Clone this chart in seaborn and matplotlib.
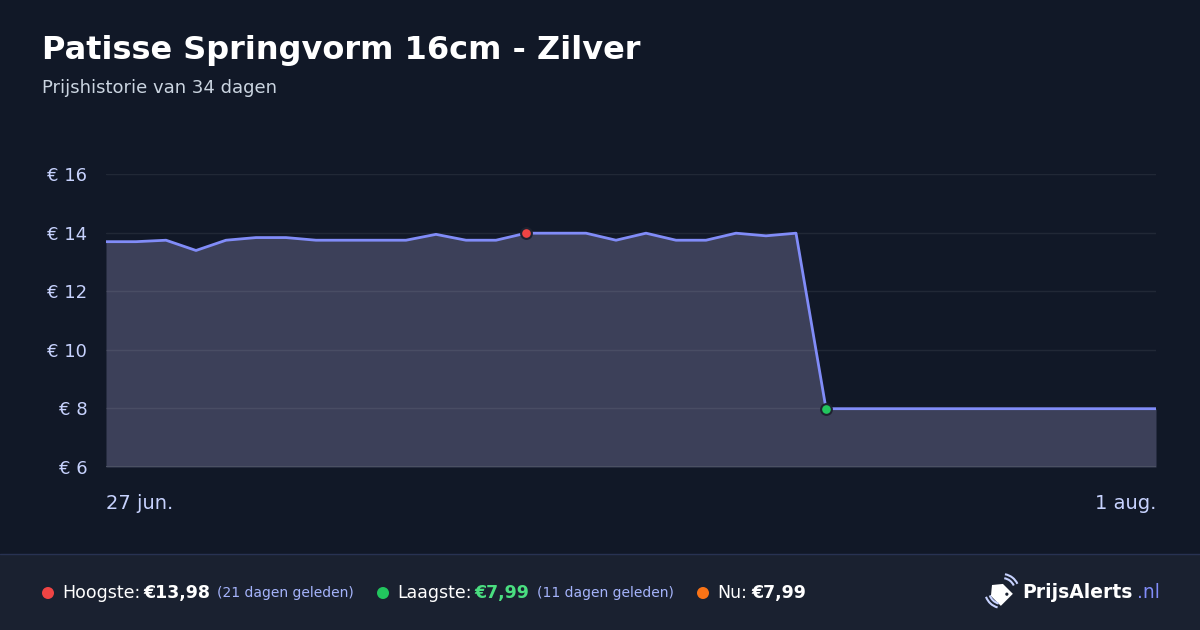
import numpy as np
import pandas as pd
import matplotlib
matplotlib.use('Agg')
import matplotlib.pyplot as plt
import matplotlib.patches as mpatches
import seaborn as sns

# price history, one value per day (27 jun -> 1 aug)
start_date = "2025-06-27"
prices = [13.69, 13.69, 13.74, 13.39, 13.74, 13.83, 13.83, 13.74, 13.74, 13.74,
          13.74, 13.94, 13.74, 13.74, 13.98, 13.98, 13.98, 13.74, 13.98, 13.74,
          13.74, 13.98, 13.89, 13.98, 7.99, 7.99, 7.99, 7.99, 7.99, 7.99,
          7.99, 7.99, 7.99, 7.99, 7.99, 7.99]
y_ticks = [6, 8, 10, 12, 14, 16]
x_labels = ["27 jun.", "1 aug."]
title = "Patisse Springvorm 16cm - Zilver"
subtitle = "Prijshistorie van 34 dagen"

BG = "#111827"
FOOTER = "#1a2130"
LINE = "#818cf8"
FILL = "#3c4059"
TICK = "#c7d2fe"

df = pd.DataFrame({"date": pd.date_range(start_date, periods=len(prices), freq="D"),
                   "price": prices})
i_max = df["price"].idxmax()
i_min = df["price"].idxmin()

sns.set_theme(style="dark")
plt.rcParams['font.family'] = ['DejaVu Sans']

fig = plt.figure(figsize=(12, 6.3), dpi=100, facecolor=BG)
ax = fig.add_axes([106 / 1200, 1 - 467 / 630, 1050 / 1200, 293 / 630])
ax.set_facecolor(BG)

ax.fill_between(df["date"], 6, df["price"], color=FILL, zorder=1, linewidth=0)
for t in y_ticks[1:]:
    ax.axhline(t, color="#ffffff", alpha=0.07, linewidth=1, zorder=2)
sns.lineplot(data=df, x="date", y="price", color=LINE, linewidth=2, ax=ax, zorder=3)
ax.axhline(6, color="#4b5163", linewidth=1.5, zorder=3)

ax.scatter(df["date"][i_max], df["price"][i_max], s=60, color="#ef4444",
           edgecolor="#1e2230", linewidth=1.5, zorder=5)
ax.scatter(df["date"][i_min], df["price"][i_min], s=60, color="#22c55e",
           edgecolor="#1e2230", linewidth=1.5, zorder=5)

ax.set_xlim(df["date"].iloc[0], df["date"].iloc[-1])
ax.set_ylim(6, 16)
ax.set_yticks(y_ticks)
ax.set_yticklabels([f"€ {v}" for v in y_ticks])
ax.set_xticks([df["date"].iloc[0], df["date"].iloc[-1]])
ax.set_xticklabels(x_labels)
labels = ax.get_xticklabels()
labels[0].set_ha("left")
labels[1].set_ha("right")
ax.tick_params(axis="y", colors=TICK, labelsize=13, pad=13.5, length=0)
ax.tick_params(axis="x", colors=TICK, labelsize=14, pad=19.5, length=0)
ax.set_xlabel("")
ax.set_ylabel("")
ax.grid(False)
for s in ax.spines.values():
    s.set_visible(False)

# header
fig.text(42 / 1200, 1 - 59 / 630, title, color="white", fontsize=23,
         fontweight="bold", va="baseline")
fig.text(42 / 1200, 1 - 93 / 630, subtitle, color="#cbd5e1", fontsize=13,
         va="baseline")

# footer (zorder below the axes so the logo icon stays on top)
fig.patches.append(mpatches.Rectangle((0, 0), 1, 76 / 630, transform=fig.transFigure,
                                      facecolor=FOOTER, edgecolor="none", zorder=-1))
fig.add_artist(plt.Line2D([0, 1], [76 / 630, 76 / 630], color="#283252", linewidth=1))

fy = 1 - 593 / 630

def fdot(x, c):
    fig.add_artist(mpatches.Ellipse((x / 1200, fy), 12 / 1200, 12 / 630,
                                    transform=fig.transFigure, facecolor=c, edgecolor="none"))

fdot(48, "#ef4444")
fig.text(62 / 1200, fy, "Hoogste:", color="white", fontsize=12.5, va="center")
fig.text(143 / 1200, fy, "€13,98", color="white", fontsize=12.5, fontweight="bold", va="center")
fig.text(217 / 1200, fy, "(21 dagen geleden)", color="#a5b4fc", fontsize=10, va="center")

fdot(383, "#22c55e")
fig.text(397 / 1200, fy, "Laagste:", color="white", fontsize=12.5, va="center")
fig.text(474 / 1200, fy, "€7,99", color="#4ade80", fontsize=12.5, fontweight="bold", va="center")
fig.text(537 / 1200, fy, "(11 dagen geleden)", color="#a5b4fc", fontsize=10, va="center")

fdot(703, "#f97316")
fig.text(717 / 1200, fy, "Nu:", color="white", fontsize=12.5, va="center")
fig.text(751 / 1200, fy, "€7,99", color="white", fontsize=12.5, fontweight="bold", va="center")

# logo icon: tag with signal arcs, drawn in pixel units
lax = fig.add_axes([982 / 1200, 1 - 610 / 630, 40 / 1200, 40 / 630])
lax.set_xlim(982, 1022)
lax.set_ylim(610, 570)
lax.axis("off")
tip = np.array([992.0, 585.0])
u = np.array([1, 1]) / np.sqrt(2)
v = np.array([1, -1]) / np.sqrt(2)
local = [(0, 0), (7, -8.5), (21, -8.5), (21, 8.5), (7, 8.5)]
pts = [tip + a * u + b * v for a, b in local]
lax.add_patch(mpatches.Polygon(pts, closed=True, facecolor="white", edgecolor="none"))
hole = tip + 17 * u + 4 * v
lax.add_patch(mpatches.Circle(hole, 1.6, facecolor=FOOTER, edgecolor="none"))
c = np.array([1002.0, 591.0])
for r in (13, 17):
    lax.add_patch(mpatches.Arc(c, 2 * r, 2 * r, theta1=-80, theta2=-25,
                               color="#c7d2fe", linewidth=1.5))
    lax.add_patch(mpatches.Arc(c, 2 * r, 2 * r, theta1=105, theta2=160,
                               color="#c7d2fe", linewidth=1.5))

fig.text(1022 / 1200, fy, "PrijsAlerts", color="white", fontsize=13.5, fontweight="bold",
         va="center")
fig.text(1137 / 1200, fy, ".nl", color="#818cf8", fontsize=13.5, va="center")

fig.savefig("out.png", dpi=100, facecolor=BG)
